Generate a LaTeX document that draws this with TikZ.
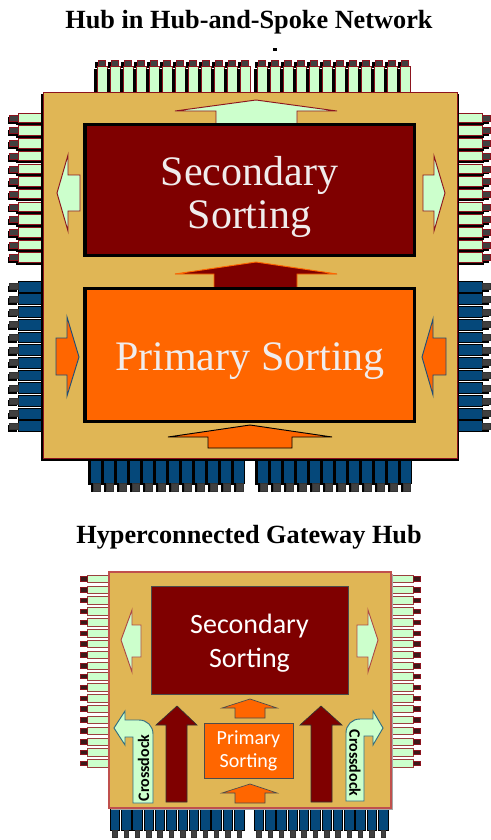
\documentclass[tikz,border=0pt]{standalone}
\usepackage{fontspec}
\setmainfont{Liberation Serif}
\newfontfamily\calfont{Carlito}
\definecolor{boardtan}{RGB}{224,182,85}
\definecolor{darkredbox}{RGB}{127,0,0}
\definecolor{orangebox}{RGB}{255,102,0}
\definecolor{pingreen}{RGB}{204,255,204}
\definecolor{pinred}{RGB}{140,20,30}
\definecolor{pinblue}{RGB}{5,72,122}
\definecolor{capgrey}{RGB}{64,64,64}
\definecolor{arrowblue}{RGB}{31,78,121}
\definecolor{boardedge}{RGB}{192,80,77}
\definecolor{docktealc}{RGB}{49,110,128}
\definecolor{textwhite}{RGB}{240,236,236}
\definecolor{capdark}{RGB}{60,25,25}
\tikzset{
  titlefont/.style={font=\bfseries\fontsize{19.7}{22}\selectfont, anchor=base, inner sep=0pt},
  bigbox/.style={draw=black, line width=2.6pt, inner sep=0pt},
  bigtext/.style={align=center, text=textwhite, inner sep=0pt,
                 font=\fontsize{31.5}{32.3}\selectfont},
  smallbox/.style={draw=black!70, line width=0.6pt, inner sep=0pt, align=center, text=white},
  pinG/.style={fill=pingreen, draw=pinred, line width=0.45pt},
  pinB/.style={fill=pinblue, draw=black, line width=0.45pt},
  capG/.style={fill=capgrey, draw=pinred, line width=0.4pt},
  capB/.style={fill=capgrey, draw=black!80, line width=0.4pt},
  pinG2/.style={fill=pingreen, draw=boardedge!80!black, line width=0.35pt},
  capD/.style={fill=capdark, draw=pinred, line width=0.35pt},
  greenarrow/.style={fill=pingreen, draw=pinred, line width=0.7pt, line join=miter},
  orangearrow/.style={fill=orangebox, draw=arrowblue, line width=0.7pt},
  dockarrow/.style={fill=pingreen, draw=docktealc, line width=0.7pt},
  docktext/.style={font=\calfont\bfseries\fontsize{12}{14}\selectfont, inner sep=0pt, text=black}
}
\begin{document}
\begin{tikzpicture}[x=0.75pt,y=-0.75pt]
\useasboundingbox (0,0) rectangle (490,840);

% ---------------- titles ----------------
\node[titlefont] (t1) at (249,28) {Hub in Hub-and-Spoke Network};
\node[titlefont] (t2) at (249,543) {Hyperconnected Gateway Hub};
\fill[black] (273,48) rectangle (277,51);

% ================= TOP DIAGRAM =================
% top pins
\foreach \s in {94,254}{\foreach \i in {0,...,11}{
  \pgfmathsetmacro{\xx}{\s+13*\i}
  \fill[black] (\xx,69) rectangle (\xx+10,92);
  \fill[black] (\xx+1,62) rectangle (\xx+8,68);
  \filldraw[pinG] (\xx+3,66) rectangle (\xx+13,92);
  \filldraw[capG] (\xx+4,60) rectangle (\xx+11,66);
}}
% left / right green pins
\foreach \i in {0,...,11}{
  \pgfmathsetmacro{\yy}{113+12.7*\i}
  \fill[black] (16,\yy+3) rectangle (43,\yy+12.2);
  \fill[black] (8,\yy+4) rectangle (17,\yy+10.5);
  \filldraw[pinG] (18,\yy) rectangle (43,\yy+9.5);
  \filldraw[capG] (9,\yy+2) rectangle (18,\yy+8);
  \fill[black] (457,\yy+3) rectangle (484,\yy+12.2);
  \fill[black] (481,\yy+4) rectangle (489,\yy+10.5);
  \filldraw[pinG] (457,\yy) rectangle (482,\yy+9.5);
  \filldraw[capG] (482,\yy+2) rectangle (490,\yy+8);
}
% left / right blue pins
\foreach \i in {0,...,11}{
  \pgfmathsetmacro{\yy}{281+12.7*\i}
  \fill[black] (8,\yy+4.5) rectangle (17,\yy+11);
  \filldraw[pinB] (18,\yy) rectangle (43,\yy+10.8);
  \filldraw[capB] (9,\yy+2.5) rectangle (18,\yy+8.5);
  \fill[black] (481,\yy+4.5) rectangle (489,\yy+11);
  \filldraw[pinB] (457,\yy) rectangle (482,\yy+10.8);
  \filldraw[capB] (482,\yy+2.5) rectangle (490,\yy+8.5);
}
% bottom blue pins
\foreach \s in {90,257}{\foreach \i in {0,...,11}{
  \pgfmathsetmacro{\xx}{\s+13*\i}
  \fill[black] (\xx-2,458) rectangle (\xx+11,485);
  \filldraw[pinB] (\xx,458) rectangle (\xx+11,483);
  \fill[black] (\xx+1,485) rectangle (\xx+9,492);
  \filldraw[capB] (\xx+3,483) rectangle (\xx+10,491);
}}
% board
\fill[black] (41,94) rectangle (459,461);
\filldraw[fill=boardtan, draw=pinred, line width=0.6pt] (43,92) rectangle (457,458);

% arrows
\filldraw[greenarrow] (216,126) -- (216,111) -- (175,111) -- (256,100) -- (337,111) -- (297,111) -- (297,126) -- cycle;
\filldraw[fill=darkredbox, draw=orangebox, line width=0.7pt] (214,289) -- (214,274) -- (175,274) -- (256,262) -- (337,274) -- (297,274) -- (297,289) -- cycle;
\filldraw[fill=orangebox, draw=black, line width=0.7pt] (208,448) -- (208,437) -- (168,437) -- (250,425) -- (332,437) -- (292,437) -- (292,448) -- cycle;
\filldraw[greenarrow] (80,175) -- (68,175) -- (68,155) -- (57,193) -- (68,231) -- (68,211) -- (80,211) -- cycle;
\filldraw[greenarrow] (423,175) -- (434,175) -- (434,156) -- (445,193) -- (434,231) -- (434,211) -- (423,211) -- cycle;
\filldraw[orangearrow] (56,338) -- (67,338) -- (67,317) -- (79,357) -- (67,396) -- (67,375) -- (56,375) -- cycle;
\filldraw[orangearrow] (446,338) -- (433,338) -- (433,319) -- (422,357) -- (433,395) -- (433,375) -- (446,375) -- cycle;

% boxes
\node[bigbox, fill=darkredbox, minimum width=247.1pt, minimum height=97.9pt] (sec1) at (249.5,190) {};
\node[bigbox, fill=orangebox, minimum width=247.1pt, minimum height=99.4pt] (pri1) at (249.5,355) {};
\node[bigtext] (sec1t) at (249.5,197) {Secondary\\Sorting};
\node[bigtext] (pri1t) at (250,361) {Primary Sorting};

% ================= BOTTOM DIAGRAM =================
\foreach \i in {0,...,17}{
  \pgfmathsetmacro{\yy}{575+10.85*\i}
  \filldraw[pinG2] (87,\yy) rectangle (109,\yy+7.5);
  \filldraw[capD] (80,\yy+1.5) rectangle (87,\yy+6);
  \filldraw[pinG2] (391,\yy) rectangle (413,\yy+7.5);
  \filldraw[capD] (413,\yy+1.5) rectangle (420,\yy+6);
}
\foreach \s in {110,254}{\foreach \i in {0,...,11}{
  \pgfmathsetmacro{\xx}{\s+11.3*\i}
  \filldraw[pinB] (\xx,808) rectangle (\xx+9.5,830);
  \filldraw[capB] (\xx+2.5,830) rectangle (\xx+7,837);
}}
\fill[black!35] (111,574) rectangle (393,810);
\filldraw[fill=boardtan, draw=boardedge, line width=0.8pt] (109,572) rectangle (391,808);

% arrows
\filldraw[greenarrow, draw=boardedge!90!black] (141,625) -- (132,625) -- (132,610) -- (121,640) -- (132,672) -- (132,657) -- (141,657) -- cycle;
\filldraw[greenarrow, draw=boardedge!90!black] (357,625) -- (368,625) -- (368,610) -- (378,640) -- (368,672) -- (368,657) -- (357,657) -- cycle;
\filldraw[fill=orangebox, draw=black!70, line width=0.5pt] (235,718) -- (235,708) -- (222,708) -- (250,699) -- (277,708) -- (265,708) -- (265,718) -- cycle;
\filldraw[fill=orangebox, draw=black!70, line width=0.5pt] (235,803) -- (235,793) -- (222,793) -- (250,784) -- (277,793) -- (265,793) -- (265,803) -- cycle;
\filldraw[fill=darkredbox, draw=black!80, line width=0.5pt] (166,802) -- (166,725) -- (156,725) -- (177,706) -- (197,725) -- (187,725) -- (187,802) -- cycle;
\filldraw[fill=darkredbox, draw=black!80, line width=0.5pt] (311,802) -- (311,725) -- (300,725) -- (321,706) -- (342,725) -- (332,725) -- (332,802) -- cycle;
% crossdock bent arrows
\filldraw[dockarrow] (133,803) -- (133,737) -- (125,737) -- (125,745) -- (114,728) -- (125,711) -- (125,720)
   -- (139,720) .. controls (147,720) and (153,726) .. (153,734) -- (153,803) -- cycle;
\filldraw[dockarrow] (364,801) -- (364,736) -- (373,736) -- (373,745) -- (383,728) -- (373,711) -- (373,719)
   -- (360,719) .. controls (352,719) and (346,725) .. (346,733) -- (346,801) -- cycle;
\node[docktext, rotate=90] (cd1) at (143.5,768) {Crossdock};
\node[docktext, rotate=-90] (cd2) at (355,763) {Crossdock};

% boxes
\node[smallbox, fill=darkredbox, minimum width=147.75pt, minimum height=81pt,
      font=\calfont\fontsize{21}{25.5}\selectfont] (sec2) at (249.5,640) {};
\node[align=center, text=white, inner sep=0pt, font=\calfont\fontsize{21}{25.5}\selectfont] (sec2t) at (249.5,643) {Secondary\\Sorting};
\node[smallbox, fill=orangebox, minimum width=66.75pt, minimum height=41.25pt,
      font=\calfont\fontsize{15}{17}\selectfont] (pri2) at (248.5,750.5) {Primary\\Sorting};
\end{tikzpicture}
\end{document}
